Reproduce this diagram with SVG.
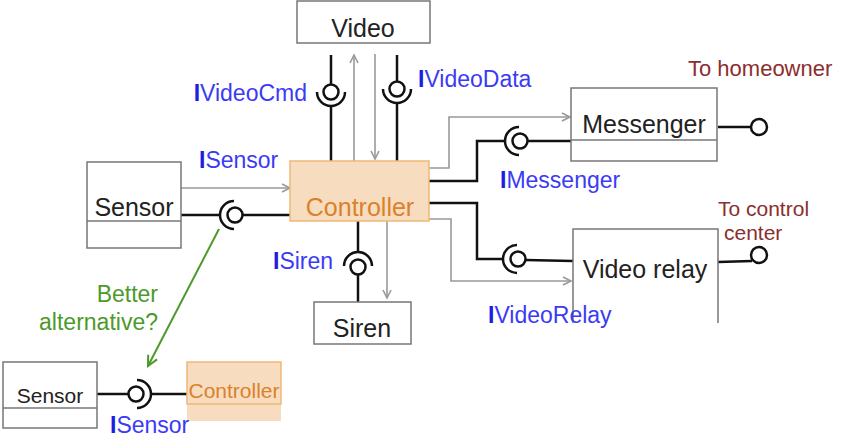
<svg xmlns="http://www.w3.org/2000/svg" width="843" height="439" viewBox="0 0 843 439">
<style>
text{font-family:"Liberation Sans",Arial,sans-serif}
.box{fill:#fff;stroke:#777;stroke-width:1.5}
.div{stroke:#777;stroke-width:1.5;fill:none}
.ctl{fill:#f8dcc0;stroke:#efb878;stroke-width:1.5}
.bt{font-size:25px;fill:#222}
.ct{font-size:25px;fill:#d9822b}
.lab{font-size:23px;fill:#3b3bf5}
.lab tspan{font-weight:bold;fill:#1e1ee0}
.ext{font-size:22px;fill:#8b2e2e}
.wire{stroke:#111;stroke-width:2.5;fill:none}
.ball{stroke:#111;stroke-width:2.5;fill:#fff}
.dep{stroke:#999;stroke-width:1.6;fill:none;marker-end:url(#ga)}
</style>
<defs>
<marker id="ga" markerUnits="userSpaceOnUse" markerWidth="12" markerHeight="12" refX="9" refY="5" orient="auto">
<path d="M1,1 L9,5 L1,9" fill="none" stroke="#999" stroke-width="1.6"/>
</marker>
<marker id="gr" markerUnits="userSpaceOnUse" markerWidth="14" markerHeight="14" refX="11" refY="6" orient="auto">
<path d="M1,1 L11,6 L1,11" fill="none" stroke="#4c9a2a" stroke-width="2"/>
</marker>
</defs>

<g id="connectors">
<line class="wire" x1="331" y1="55" x2="331" y2="84"/>
<line class="wire" x1="331" y1="106" x2="331" y2="161"/>
<path class="wire" d="M317,92 A14,14 0 0 0 345,92"/>
<circle class="ball" cx="331" cy="92" r="7.5"/>
<line class="wire" x1="397" y1="55" x2="397" y2="81"/>
<line class="wire" x1="397" y1="103" x2="397" y2="161"/>
<path class="wire" d="M383,89 A14,14 0 0 0 411,89"/>
<circle class="ball" cx="397" cy="89" r="7.5"/>
<line class="dep" x1="354" y1="161" x2="354" y2="55"/>
<line class="dep" x1="375" y1="54" x2="375" y2="159"/>
<line class="dep" x1="181" y1="188" x2="290" y2="188"/>
<line class="wire" x1="181" y1="215" x2="220" y2="215"/>
<path class="wire" d="M234,201 A14,14 0 0 0 234,229"/>
<circle class="ball" cx="235" cy="215" r="7.5"/>
<line class="wire" x1="242.5" y1="215" x2="290" y2="215"/>
<polyline class="dep" points="429,168 449,168 449,117 570,117"/>
<polyline class="wire" points="429,181 477,181 477,141 505,141"/>
<path class="wire" d="M519,127 A14,14 0 0 0 519,155"/>
<circle class="ball" cx="520" cy="141" r="7.5"/>
<line class="wire" x1="527.5" y1="141" x2="571" y2="141"/>
<line class="wire" x1="718" y1="127" x2="751" y2="127"/>
<circle class="ball" cx="759" cy="127" r="8"/>
<polyline class="wire" points="429,203 477,203 477,259 503,259"/>
<path class="wire" d="M517,245 A14,14 0 0 0 517,273"/>
<circle class="ball" cx="518" cy="259" r="7.5"/>
<line class="wire" x1="525.5" y1="260" x2="573" y2="261"/>
<polyline class="dep" points="429,219 451,219 451,281 571,281"/>
<line class="wire" x1="718" y1="262" x2="752" y2="261"/>
<circle class="ball" cx="759" cy="255" r="8"/>
<line class="wire" x1="358" y1="221" x2="358" y2="252"/>
<path class="wire" d="M344,266 A14,14 0 0 1 372,266"/>
<circle class="ball" cx="358" cy="267" r="7.5"/>
<line class="wire" x1="358" y1="274.5" x2="358" y2="302"/>
<line class="dep" x1="387" y1="221" x2="387" y2="298"/>
<line x1="219" y1="229" x2="148" y2="366" stroke="#4c9a2a" stroke-width="2" marker-end="url(#gr)"/>
<line class="wire" x1="97" y1="394" x2="128" y2="394"/>
<path class="wire" d="M137,380 A14,14 0 0 1 137,408"/>
<circle class="ball" cx="136" cy="394" r="7.5"/>
<line class="wire" x1="151" y1="394" x2="187" y2="394"/>
</g>

<g id="video">
<rect class="box" x="297" y="1" width="133" height="42"/>
<text class="bt" x="363" y="37" text-anchor="middle">Video</text>
</g>
<g id="sensor">
<rect class="box" x="87" y="162" width="94" height="86"/>
<line class="div" x1="87" y1="221" x2="181" y2="221"/>
<text class="bt" x="134" y="216" text-anchor="middle">Sensor</text>
</g>
<g id="controller">
<rect class="ctl" x="290" y="161" width="139" height="60"/>
<text class="ct" x="360" y="216" text-anchor="middle">Controller</text>
</g>
<g id="messenger">
<rect class="box" x="571" y="88" width="146" height="73"/>
<line class="div" x1="571" y1="140" x2="717" y2="140"/>
<text class="bt" x="644" y="133" text-anchor="middle">Messenger</text>
</g>
<g id="videorelay">
<path class="div" d="M573,323 V229 H718 V323"/>
<text class="bt" x="645" y="278" text-anchor="middle">Video relay</text>
</g>
<g id="siren">
<rect class="box" x="314" y="302" width="97" height="42"/>
<text class="bt" x="362" y="337" text-anchor="middle">Siren</text>
</g>
<g id="sensor2">
<rect class="box" x="3" y="362" width="94" height="66"/>
<line class="div" x1="3" y1="408" x2="97" y2="408"/>
<text x="50" y="403" text-anchor="middle" font-size="21" fill="#222">Sensor</text>
</g>
<g id="controller2">
<rect x="187" y="404" width="94" height="17" fill="#f8dcc0"/>
<rect class="ctl" x="187" y="362" width="94" height="42"/>
<text x="234" y="398" text-anchor="middle" font-size="21" fill="#d9822b">Controller</text>
</g>

<g id="labels">
<text class="lab" x="307" y="101" text-anchor="end"><tspan>I</tspan>VideoCmd</text>
<text class="lab" x="418" y="87"><tspan>I</tspan>VideoData</text>
<text class="lab" x="199" y="168"><tspan>I</tspan>Sensor</text>
<text class="lab" x="500" y="188"><tspan>I</tspan>Messenger</text>
<text class="lab" x="273" y="269"><tspan>I</tspan>Siren</text>
<text class="lab" x="488" y="323"><tspan>I</tspan>VideoRelay</text>
<text class="lab" x="110" y="433" font-size="21"><tspan>I</tspan>Sensor</text>
<text class="ext" x="688" y="76">To homeowner</text>
<text class="ext" font-size="21" style="font-size:21px"><tspan x="718" y="216">To control</tspan><tspan x="724" y="240">center</tspan></text>
<text x="158" y="302" text-anchor="end" font-size="23" fill="#4c9a2a">Better</text>
<text x="158" y="330" text-anchor="end" font-size="23" fill="#4c9a2a">alternative?</text>
</g>
</svg>
